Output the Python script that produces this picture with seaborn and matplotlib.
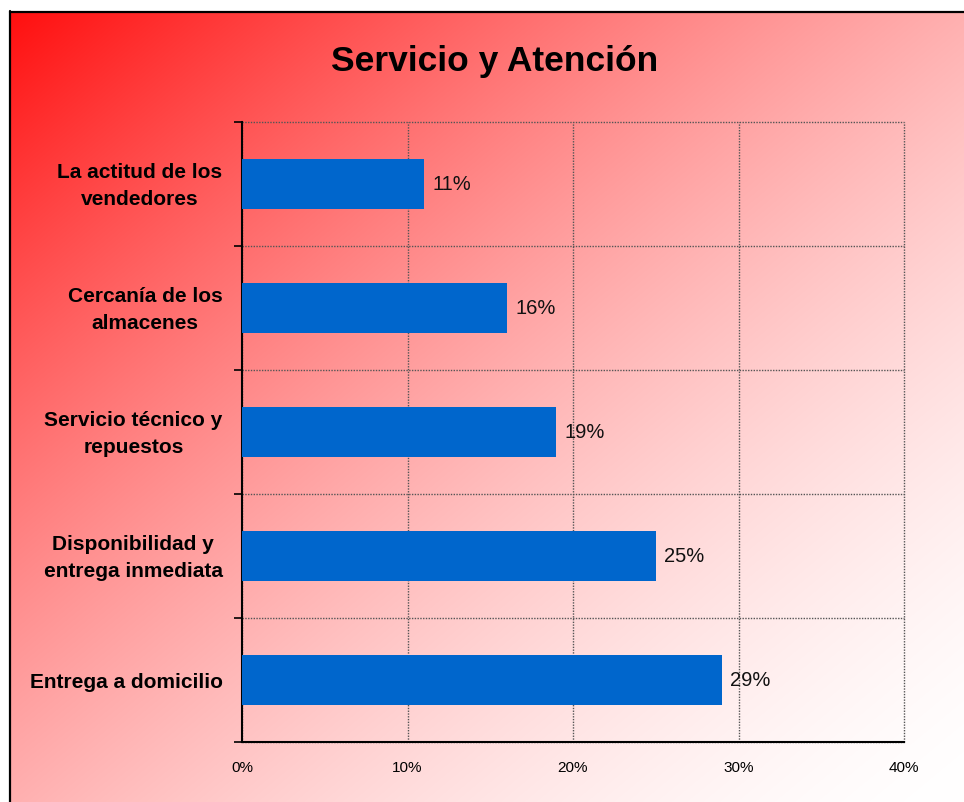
import numpy as np
import pandas as pd
import matplotlib
matplotlib.use("Agg")
import matplotlib.pyplot as plt
import seaborn as sns
from matplotlib.lines import Line2D
from matplotlib.ticker import FuncFormatter, FixedLocator
from matplotlib.transforms import ScaledTranslation

categories = ["La actitud de los\nvendedores", "Cercanía de los\nalmacenes",
              "Servicio técnico y\nrepuestos", "Disponibilidad y\nentrega inmediata",
              "Entrega a domicilio"]
values = [11, 16, 19, 25, 29]
x_ticks = [0, 10, 20, 30, 40]
title = "Servicio y Atención"

sns.set_style("white")
plt.rcParams['font.family'] = ['Liberation Sans', 'DejaVu Sans']

W, H = 964, 802
fig = plt.figure(figsize=(W / 100, H / 100), dpi=100)
fig.patch.set_facecolor("white")

# diagonal gradient background (red top-left -> near white bottom-right)
gw, gh = W - 10, H - 12
xx, yy = np.meshgrid(np.arange(gw) / gw, np.arange(gh) / gh)
u = (xx + yy) / 2
g = 255 - 240 * (1 - u) ** 1.6
img = np.zeros((gh, gw, 3))
img[..., 0] = 1.0
img[..., 1] = g / 255
img[..., 2] = g / 255
fig.figimage(img, xo=10, yo=0, origin="upper", zorder=-5)

# border
bx = 10 / W
by = 1 - 12 / H
fig.add_artist(Line2D([bx, bx], [0, by + 0.001], color="black", lw=1.6))
fig.add_artist(Line2D([bx, 1], [by, by], color="black", lw=1.6))

ax = fig.add_axes([242 / W, 1 - 742 / H, (904 - 242) / W, (742 - 122) / H])
ax.set_facecolor("none")

df = pd.DataFrame({"cat": categories, "val": values})
sns.barplot(data=df, y="cat", x="val", orient="h", color="#0066CC",
            width=0.4, saturation=1, ax=ax, zorder=3, linewidth=0, edgecolor="none")

ax.set_xlim(0, 40)
ax.set_ylim(len(categories) - 0.5, -0.5)
ax.set_xlabel("")
ax.set_ylabel("")

for c in ax.containers:
    ax.bar_label(c, labels=[f"{v}%" for v in values], padding=6, fontsize=14.5, color="#111111")

ax.xaxis.set_major_locator(FixedLocator(x_ticks))
ax.xaxis.set_major_formatter(FuncFormatter(lambda v, p: f"{v:.0f}%"))
ax.tick_params(axis="x", length=5, width=1.2, direction="out", pad=9, labelsize=11, colors="black")

ax.yaxis.set_minor_locator(FixedLocator(np.arange(-0.5, len(categories), 1.0)))
ax.tick_params(axis="y", which="major", length=0, pad=14, labelsize=15, labelcolor="black")
ax.tick_params(axis="y", which="minor", length=6, width=1.2, direction="out", left=True, color="black")
for lbl in ax.get_yticklabels():
    lbl.set_fontweight("bold")
    lbl.set_multialignment("center")
    lbl.set_linespacing(1.5)
    lbl.set_color("black")
    if "\n" in lbl.get_text():
        lbl.set_transform(lbl.get_transform() + ScaledTranslation(0, 3.5 / 100, fig.dpi_scale_trans))

ax.grid(False)
ax.grid(axis="x", which="major", color="#555555", linestyle=(0, (1, 1)), linewidth=1, zorder=1)
ax.grid(axis="y", which="minor", color="#555555", linestyle=(0, (1, 1)), linewidth=1, zorder=1)
ax.set_axisbelow(True)

ax.spines["top"].set_visible(False)
ax.spines["right"].set_visible(False)
ax.spines["left"].set_color("black")
ax.spines["bottom"].set_color("black")
ax.spines["left"].set_linewidth(1.5)
ax.spines["bottom"].set_linewidth(1.5)
for gl in ax.xaxis.get_gridlines():
    gl.set_clip_on(False)
for t in ax.yaxis.get_minor_ticks():
    t.gridline.set_clip_on(False)

fig.text(495 / W, 1 - 62 / H, title, ha="center", va="center",
         fontsize=25.5, fontweight="bold", color="black")

fig.savefig("out.png", dpi=100)
